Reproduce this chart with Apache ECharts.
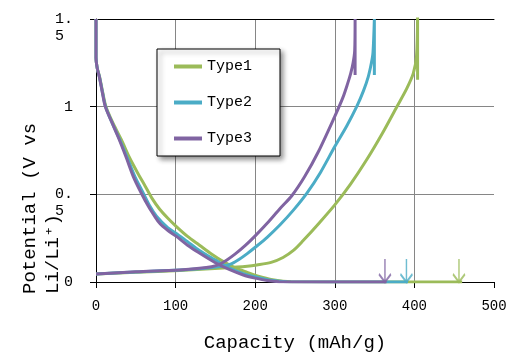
<!DOCTYPE html>
<html>
<head>
<meta charset="utf-8">
<script src="https://cdn.jsdelivr.net/npm/echarts@6/dist/echarts.min.js"></script>
<style>html,body{margin:0;padding:0;background:#fff}#c{width:511px;height:361px}</style>
</head>
<body>
<div id="c"></div>
<script>
// ---- data ----
const seriesNames = ['Type1', 'Type2', 'Type3'];
const seriesColors = ['#9BBB59', '#4BACC6', '#8064A2'];
const xTickValues = [0, 100, 200, 300, 400, 500];
const yTickValues = [0, 0.5, 1, 1.5];

// discharge (lithiation) curves
const type1DisCap = [0, 0, 1.5, 4.5, 8.5, 12.5, 22, 32, 42, 52, 62, 70, 80, 90, 101, 115, 130, 145, 160, 175, 190, 205, 220, 245, 460];
const type1DisV   = [1.5, 1.28, 1.22, 1.17, 1.08, 1.0, 0.9, 0.81, 0.71, 0.625, 0.545, 0.48, 0.415, 0.365, 0.316, 0.26, 0.21, 0.16, 0.116, 0.08, 0.055, 0.032, 0.015, 0.002, 0];
const type2DisCap = [0, 0, 1.5, 4.3, 8.2, 12, 21, 30, 40, 49, 58, 68, 76, 90, 100, 115, 130, 150, 165, 185, 200, 220, 240, 392];
const type2DisV   = [1.5, 1.28, 1.22, 1.17, 1.08, 1.0, 0.9, 0.81, 0.7, 0.6, 0.52, 0.43, 0.375, 0.31, 0.28, 0.23, 0.18, 0.125, 0.085, 0.048, 0.03, 0.01, 0.002, 0];
const type3DisCap = [0, 0, 1.5, 4.2, 8, 11.7, 20, 28.5, 38, 47, 56, 66, 73, 80, 90, 101, 115, 130, 150, 168, 185, 200, 215, 230, 365];
const type3DisV   = [1.5, 1.28, 1.22, 1.17, 1.08, 1.0, 0.91, 0.82, 0.71, 0.6, 0.515, 0.43, 0.38, 0.335, 0.295, 0.26, 0.21, 0.165, 0.11, 0.07, 0.04, 0.022, 0.008, 0.002, 0];

// charge (delithiation) curves
const type1ChgCap = [0, 50, 105, 160, 190, 202, 220, 235, 248, 260, 281, 300, 320, 340, 360, 378, 390, 398.6, 402.7, 404, 404];
const type1ChgV   = [0.046, 0.055, 0.065, 0.08, 0.09, 0.097, 0.112, 0.14, 0.18, 0.235, 0.34, 0.44, 0.56, 0.697, 0.85, 1.0, 1.1, 1.19, 1.29, 1.52, 1.154];
const type2ChgCap = [0, 50, 105, 140, 155, 168, 180, 190, 200, 215, 231, 248, 265, 282, 300, 315, 327.5, 336, 342, 346, 348, 349.7, 349.7];
const type2ChgV   = [0.046, 0.057, 0.068, 0.08, 0.088, 0.1, 0.13, 0.162, 0.198, 0.255, 0.325, 0.41, 0.507, 0.625, 0.773, 0.89, 1.0, 1.09, 1.17, 1.25, 1.31, 1.5, 1.18];
const type3ChgCap = [0, 50, 105, 130, 145, 155, 164, 175, 188, 200, 215, 231, 246, 262, 279, 300, 310, 316, 320, 323, 325, 325.5, 325.5];
const type3ChgV   = [0.046, 0.058, 0.069, 0.078, 0.087, 0.1, 0.124, 0.16, 0.21, 0.263, 0.335, 0.418, 0.492, 0.6, 0.74, 0.945, 1.05, 1.13, 1.19, 1.25, 1.32, 1.5, 1.18];

// end-of-discharge arrows
const arrowCapacity = [456, 390, 363];
const arrowTopV = 0.13;

// ---- build ----
const FONT = "'Liberation Mono','DejaVu Sans Mono',monospace";
function pairs(xs, ys) { return xs.map((x, i) => [x, ys[i]]); }
const curves = [
  [type1DisCap, type1DisV, type1ChgCap, type1ChgV],
  [type2DisCap, type2DisV, type2ChgCap, type2ChgV],
  [type3DisCap, type3DisV, type3ChgCap, type3ChgV]
];
const series = [];
curves.forEach((c, i) => {
  [[c[0], c[1]], [c[2], c[3]]].forEach(p => {
    series.push({
      name: seriesNames[i], type: 'line', data: pairs(p[0], p[1]),
      showSymbol: false, symbol: 'none', smooth: 0.3,
      lineStyle: { color: seriesColors[i], width: 3 },
      itemStyle: { color: seriesColors[i] },
      z: 2 + i, animation: false
    });
  });
});
arrowCapacity.forEach((x, i) => {
  series.push({
    name: 'arrow' + (i + 1), type: 'scatter',
    data: [[x, arrowTopV / 2]],
    symbol: 'path://M10,0 L10,40 M0,26 L10,40 L20,26',
    symbolSize: [12, 23],
    itemStyle: { color: 'rgba(0,0,0,0)', borderColor: seriesColors[i], borderWidth: 2 },
    silent: true, z: 6, animation: false
  });
});

const chart = echarts.init(document.getElementById('c'), null, { renderer: 'canvas' });
chart.setOption({
  animation: false,
  backgroundColor: '#fff',
  grid: { left: 96, right: 17, top: 19, bottom: 79, containLabel: false, outerBoundsMode: 'none' },
  legend: {
    data: seriesNames, orient: 'vertical', left: 157, top: 49,
    padding: [10, 28, 10, 17], itemGap: 21, itemWidth: 28, itemHeight: 4,
    icon: 'rect',
    textStyle: { fontFamily: FONT, fontSize: 15, color: '#000', padding: [0, 0, 4, 0] },
    backgroundColor: '#fff', borderColor: '#000', borderWidth: 1,
    shadowBlur: 5, shadowColor: 'rgba(0,0,0,0.45)', shadowOffsetX: 3, shadowOffsetY: 3
  },
  xAxis: [{
    type: 'value', min: xTickValues[0], max: xTickValues[xTickValues.length - 1], interval: 100,
    name: 'Capacity (mAh/g)', nameLocation: 'middle', nameGap: 51,
    nameTextStyle: { fontFamily: FONT, fontSize: 19, color: '#000' },
    axisLine: { show: true, lineStyle: { color: '#000', width: 1 } },
    axisTick: { show: true, inside: false, length: 6, lineStyle: { color: '#000' } },
    axisLabel: { margin: 17, fontFamily: FONT, fontSize: 14, color: '#000' },
    splitLine: { show: true, showMaxLine: false, lineStyle: { color: '#868686', width: 1 } }
  }, {
    type: 'value', position: 'top', min: xTickValues[0], max: xTickValues[xTickValues.length - 1],
    axisLine: { show: true, onZero: false, lineStyle: { color: '#000', width: 1 } },
    axisTick: { show: false }, axisLabel: { show: false }, splitLine: { show: false }
  }],
  yAxis: {
    type: 'value', min: yTickValues[0], max: yTickValues[yTickValues.length - 1], interval: 0.5,
    axisLine: { show: true, lineStyle: { color: '#000', width: 1 } },
    axisTick: { show: true, inside: false, length: 6, lineStyle: { color: '#000' } },
    axisLabel: {
      margin: 23, fontFamily: FONT, fontSize: 15, color: '#000', lineHeight: 17,
      formatter: function (v) {
        const s = String(v);
        if (s.indexOf('.') >= 0) { const p = s.split('.'); return ' \n' + p[0] + '.\n' + p[1] + ' '; }
        return ' \n' + s + '\n ';
      }
    },
    splitLine: { show: true, lineStyle: { color: '#868686', width: 1 } }
  },
  graphic: [{
    type: 'text', x: 41, y: 294, rotation: Math.PI / 2, silent: true,
    style: {
      text: 'Potential (V vs\nLi/Li\u207A)', fontFamily: FONT, fontSize: 19, lineHeight: 23,
      fill: '#000', align: 'left', verticalAlign: 'middle'
    }
  }],
  series: series
});
</script>
</body>
</html>
